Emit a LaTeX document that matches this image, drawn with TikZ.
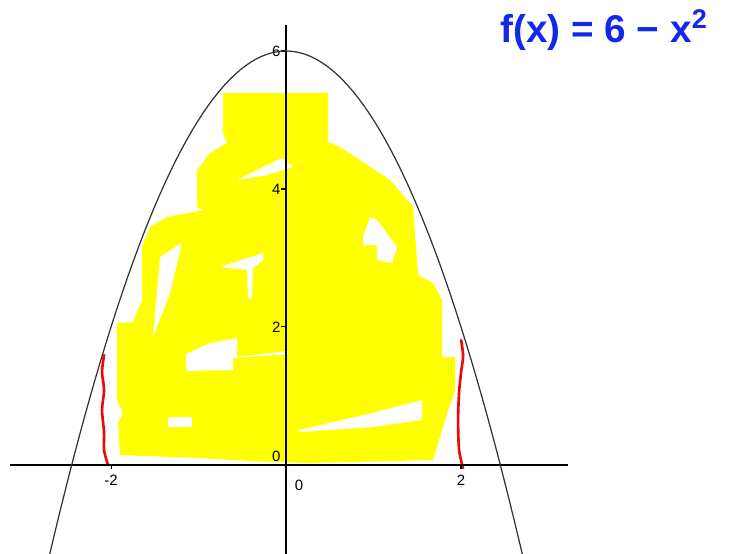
\documentclass[tikz,border=0pt]{standalone}
\usepackage{fontspec}
\setmainfont{Liberation Sans}
\usepackage{tikz}
\usetikzlibrary{positioning, calc}
\usepackage{xcolor}
\definecolor{inkblue}{RGB}{20,40,235}
\definecolor{inkred}{RGB}{235,10,10}
\definecolor{paintyellow}{RGB}{255,255,0}
\tikzset{
    axis/.style={line width=0.7pt, black},
    tick/.style={line width=0.6pt, black},
    ticklabel/.style={font=\fontsize{8.5}{10}\selectfont, inner sep=1pt},
    curve/.style={line width=0.7pt, black!80},
    paint/.style={fill=paintyellow, draw=none},
    gap/.style={fill=white, draw=none},
    redmark/.style={line width=1.5pt, inkred, line cap=round},
    handnote/.style={font=\fontsize{22}{25}\selectfont\bfseries, text=inkblue, inner sep=0pt}
}

\begin{document}
\begin{tikzpicture}[x=1.75cm, y=1.38cm]
    \useasboundingbox (-3.269,-1.290) rectangle (5.063,6.739);
    % pixel frame of the picture
    \begin{scope}[x=0.02cm, y=-0.02cm, shift={(-5.72cm,9.3cm)}]
    % yellow shading
    \fill[paint] (223,93) -- (328,93) -- (328,142) -- (340,147) -- (390,180) -- (413,207)
        -- (418,275) -- (433,283) -- (442,300) -- (442,357) -- (455,357) -- (455,390)
        -- (447,413) -- (433,460) -- (307,463) -- (250,461) -- (200,458) -- (120,455)
        -- (118,423) -- (123,413) -- (117,400) -- (117,323) -- (133,322) -- (142,300)
        -- (142,247) -- (150,227) -- (167,217) -- (203,210) -- (197,207) -- (197,170)
        -- (210,153) -- (227,143) -- (223,133) -- cycle;
    \fill[gap] (237,180) -- (282,158) -- (293,167) -- (267,175) -- cycle;
    \fill[gap] (160,257) -- (182,243) -- (170,293) -- (153,337) -- (158,280) -- cycle;
    \fill[gap] (220,267) -- (263,253) -- (263,260) -- (253,268) -- (252,298) -- (248,298) -- (247,270) -- cycle;
    \fill[gap] (363,237) -- (370,217) -- (377,220) -- (397,247) -- (392,263) -- (377,260) -- (377,245) -- (363,245) -- cycle;
    \fill[gap] (186,354) -- (210,343) -- (237,338) -- (237,357) -- (288,351) -- (288,354) -- (233,358) -- (233,370) -- (186,371) -- cycle;
    \fill[gap] (168,417) rectangle (192,427);
    \fill[gap] (299,430) -- (372,413) -- (422,400) -- (422,420) -- (372,427) -- (299,432) -- cycle;
    % red marks
    \draw[redmark] plot[smooth] coordinates {(104,355) (102,372) (104,390) (102,410) (104,432) (104,450) (108,465)};
    \draw[redmark] plot[smooth] coordinates {(461,340) (463,356) (461,372) (459,392) (458,420) (459,450) (463,468)};
    % handwritten formula
    \node[handnote] (formula) at (604,30) {f(x) = 6 − x\textsuperscript{2}};
    \end{scope}

    % axes
    \coordinate (xl) at (-3.154,0);
    \coordinate (xr) at (3.223,0);
    \coordinate (yb) at (0,-1.29);
    \coordinate (yt) at (0,6.38);
    \draw[axis] (xl) -- (xr);
    \draw[axis] (yb) -- (yt);
    \foreach \v in {-2,2}
        \draw[tick] (\v,0) -- (\v,-0.06);
    \foreach \v in {2,4,6}
        \draw[tick] (0,\v) -- (-0.06,\v);

    % tick labels
    \node[ticklabel] (xm2) at (-2,-0.22) {-2};
    \node[ticklabel] (x0) at (0.15,-0.3) {0};
    \node[ticklabel] (x2) at (2,-0.22) {2};
    \node[ticklabel] (y0) at (-0.11,0.13) {0};
    \node[ticklabel] (y2) at (-0.11,2) {2};
    \node[ticklabel] (y4) at (-0.11,4) {4};
    \node[ticklabel] (y6) at (-0.11,6) {6};

    % f(x) = 6 - x^2
    \draw[curve] plot[domain=-2.729:2.729, samples=90] (\x, {6-\x*\x});
\end{tikzpicture}
\end{document}
